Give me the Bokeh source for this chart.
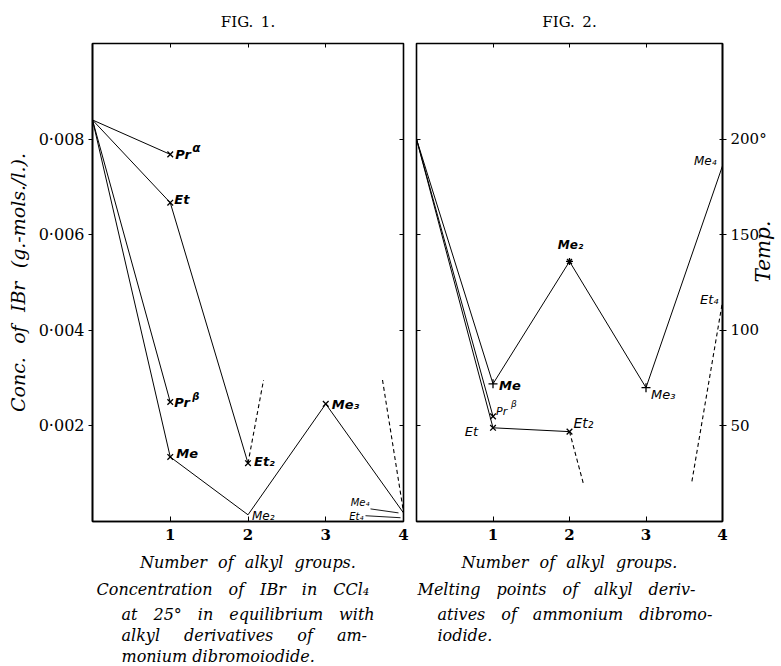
import math
from bokeh.plotting import figure
from bokeh.models import Range1d, LinearAxis, FixedTicker, Title, CustomJSTickFormatter
from bokeh.layouts import row
from bokeh.embed import file_html
from bokeh.resources import INLINE
from bokeh.core.properties import value

# ---------------- data: Fig. 1  (conc. of IBr in CCl4, g.-mols./l.) ----------------
alkyl_groups = [0, 1, 2, 3, 4]
conc_start = 0.0084                                   # 0 alkyl groups
conc_me = [0.00135, 0.00014, 0.00246, 0.00018]        # Me, Me2, Me3, Me4
conc_et = [0.00667, 0.00122]                          # Et, Et2
conc_et4 = 0.00010
conc_pr_alpha = 0.00768
conc_pr_beta = 0.00250
conc_dash_x = [[2.0, 2.2], [3.73, 4.0]]
conc_dash_y = [[0.00122, 0.00296], [0.00296, 0.00020]]

# ---------------- data: Fig. 2  (melting points, deg.) ----------------
mp_start = 200
mp_me = [72, 136, 70, 186]                            # Me, Me2, Me3, Me4
mp_et = [49, 47]                                      # Et, Et2
mp_et4 = 115
mp_pr_beta = 55
mp_dash_x = [[2.0, 2.18], [3.6, 4.0]]
mp_dash_y = [[47, 20], [21, 115]]

group_ticks = [1, 2, 3, 4]
conc_ticks = [0.002, 0.004, 0.006, 0.008]
temp_ticks = [50, 100, 150, 200]

EM, EN, TH = "\u2003", "\u2002", "\u2009"
caption1 = [EM.join(["Concentration", "of", "IBr", "in", "CCl₄"]),
            EM.join(["at", "25°", "in", "equilibrium", "with"]),
            (EM + EN).join(["alkyl", "derivatives", "of", "am-"]),
            "monium dibromoiodide."]
caption2 = [EM.join(["Melting", "points", "of", "alkyl", "deriv-"]),
            EM.join(["atives", "of", "ammonium", "dibromo-"]),
            "iodide."]
x_title = (EN + TH).join(["Number", "of", "alkyl", "groups."])
conc_title = (EN + TH).join(["Conc.", "of", "IBr", "(g.-mols./l.)."])
temp_title = "Temp."

# ---------------- styling ----------------
SERIF = "DejaVu Serif"
HAND = "DejaVu Sans"
FW1, FW2, FH = 311, 306, 478


def ticks_only(ticks, tin=4):
    ax = LinearAxis(ticker=FixedTicker(ticks=ticks))
    ax.major_label_text_font_size = "1px"
    ax.major_label_text_color = None
    ax.major_label_standoff = 0
    ax.major_tick_in = tin
    ax.major_tick_out = 0
    ax.minor_tick_line_color = None
    ax.axis_line_color = None
    ax.major_tick_line_color = "black"
    return ax


def base_fig(fw, yr, yloc, bl, br, title, toff):
    p = figure(frame_width=fw, frame_height=FH, x_range=Range1d(0, 4), y_range=yr,
               y_axis_location=yloc, output_backend="svg", toolbar_location=None,
               min_border_left=bl, min_border_right=br, min_border_top=43, min_border_bottom=144,
               background_fill_color="white", border_fill_color="white", title=title)
    p.title.align = "center"
    p.title.vertical_align = "top"
    p.title.offset = toff
    p.title.standoff = 21
    p.title.text_font = SERIF
    p.title.text_font_style = "normal"
    p.title.text_font_size = "15px"
    p.title.text_color = "black"
    p.xgrid.visible = False
    p.ygrid.visible = False
    p.outline_line_color = "black"
    p.outline_line_width = 1.6
    xa = p.xaxis[0]
    xa.ticker = FixedTicker(ticks=group_ticks)
    xa.major_tick_in = 5
    xa.major_tick_out = 0
    xa.minor_tick_line_color = None
    xa.axis_line_width = 1.6
    xa.major_label_text_font = SERIF
    xa.major_label_text_font_style = "bold"
    xa.major_label_text_font_size = "15px"
    xa.major_label_text_color = "black"
    xa.major_label_standoff = 7
    xa.axis_label = x_title
    xa.axis_label_text_font = SERIF
    xa.axis_label_text_font_style = "italic"
    xa.axis_label_text_font_size = "16px"
    xa.axis_label_text_color = "black"
    xa.axis_label_standoff = 10
    ya = p.yaxis[0]
    ya.minor_tick_line_color = None
    ya.axis_line_width = 1.6
    ya.major_label_text_font = SERIF
    ya.major_label_text_font_size = "15px"
    ya.major_label_text_color = "black"
    ya.major_label_standoff = 4
    return p


def captions(p, lines, first_off, rest_off):
    for i, t in enumerate(lines):
        p.add_layout(Title(text=t, align="left", offset=first_off if i == 0 else rest_off,
                           standoff=7 if i == 0 else 0, text_font=SERIF,
                           text_font_style="italic", text_font_size="16px",
                           text_color="black"), "below")


def hand(p, x, y, t, dx=0, dy=0, align="left", size="13px", style="bold italic"):
    p.text(x=[x], y=[y], text=[t], x_offset=dx, y_offset=dy, text_align=align,
           text_baseline="middle", text_font=value(HAND), text_font_style=style,
           text_font_size=size, text_color="black")


# =============================== Fig. 1 ===============================
p1 = base_fig(FW1, Range1d(0, 0.010), "left", 92, 6, "FIG." + EN + "1.", 0)
ya = p1.yaxis[0]
ya.ticker = FixedTicker(ticks=conc_ticks)
ya.formatter = CustomJSTickFormatter(code="return tick.toFixed(3).replace('.', '\u00b7');")
ya.major_label_text_font_size = "16px"
ya.major_tick_in = 0
ya.major_tick_out = 4
ya.axis_label = conc_title
ya.axis_label_text_font = SERIF
ya.axis_label_text_font_style = "italic"
ya.axis_label_text_font_size = "19px"
ya.axis_label_text_color = "black"
ya.axis_label_standoff = 7
p1.add_layout(ticks_only(conc_ticks), "right")
p1.add_layout(ticks_only([1, 2, 3]), "above")

lw = 1.0
p1.line(alkyl_groups, [conc_start] + conc_me, line_color="black", line_width=lw)
p1.line(alkyl_groups[:3], [conc_start] + conc_et, line_color="black", line_width=lw)
p1.line([0, 1], [conc_start, conc_pr_alpha], line_color="black", line_width=lw)
p1.line([0, 1], [conc_start, conc_pr_beta], line_color="black", line_width=lw)
p1.multi_line(conc_dash_x, conc_dash_y, line_color="black", line_width=1.1, line_dash="4 3")
p1.line([4, 4], [conc_me[3], conc_et4], line_color="black", line_width=lw)
p1.scatter([1, 1, 1, 1, 2, 3],
           [conc_pr_alpha, conc_et[0], conc_pr_beta, conc_me[0], conc_et[1], conc_me[2]],
           marker="x", size=8, line_color="black", line_width=1.3)

hand(p1, 1, conc_pr_alpha, "Pr", dx=5, dy=0)
hand(p1, 1, conc_pr_alpha, "α", dx=22, dy=-6, size="12px")
hand(p1, 1, conc_et[0], "Et", dx=4, dy=-3)
hand(p1, 1, conc_pr_beta, "Pr", dx=4, dy=0)
hand(p1, 1, conc_pr_beta, "β", dx=22, dy=-6, size="10px")
hand(p1, 1, conc_me[0], "Me", dx=6, dy=-3)
hand(p1, 2, conc_et[1], "Et₂", dx=6, dy=-2)
hand(p1, 2, conc_me[1], "Me₂", dx=4, dy=1, size="12px", style="italic")
hand(p1, 3, conc_me[2], "Me₃", dx=6, dy=1)
hand(p1, 4, conc_me[3], "Me₄", dx=-34, dy=-10, align="right", size="10px", style="italic")
hand(p1, 4, conc_et4, "Et₄", dx=-40, dy=0, align="right", size="10px", style="italic")
# leader lines from the Me4 / Et4 labels to their points (offsets in px -> data units)
ux, uy = 4 / FW1, 0.010 / FH
p1.segment(x0=[4 - 33 * ux, 4 - 38 * ux], y0=[conc_me[3] + 4 * uy, conc_et4 + 1 * uy],
           x1=[4 - 5 * ux, 4 - 3 * ux], y1=[conc_me[3], conc_et4 - 1 * uy],
           line_color="black", line_width=0.9)
captions(p1, caption1, 4, 29)

# =============================== Fig. 2 ===============================
p2 = base_fig(FW2, Range1d(0, 250), "right", 7, 58, "FIG." + EN + "2.", 12)
ya2 = p2.yaxis[0]
ya2.ticker = FixedTicker(ticks=temp_ticks)
ya2.major_label_overrides = {200: "200°"}
ya2.major_tick_in = 3
ya2.major_tick_out = 4
ya2.axis_label = temp_title
ya2.axis_label_orientation = math.pi / 2
ya2.axis_label_text_font = SERIF
ya2.axis_label_text_font_style = "italic"
ya2.axis_label_text_font_size = "20px"
ya2.axis_label_text_color = "black"
ya2.axis_label_standoff = -7
p2.add_layout(ticks_only(temp_ticks), "left")
p2.add_layout(ticks_only([1, 2, 3]), "above")

p2.line(alkyl_groups, [mp_start] + mp_me, line_color="black", line_width=lw)
p2.line(alkyl_groups[:3], [mp_start] + mp_et, line_color="black", line_width=lw)
p2.line([0, 1], [mp_start, mp_pr_beta], line_color="black", line_width=lw)
p2.multi_line(mp_dash_x, mp_dash_y, line_color="black", line_width=1.1, line_dash="4 3")
p2.scatter([1, 1, 2], [mp_pr_beta, mp_et[0], mp_et[1]], marker="x", size=8,
           line_color="black", line_width=1.3)
p2.scatter([1, 3], [mp_me[0], mp_me[2]], marker="cross", size=9, line_color="black", line_width=1.3)
p2.scatter([2], [mp_me[1]], marker="asterisk", size=7, line_color="black", line_width=1.3)

hand(p2, 1, mp_me[0], "Me", dx=6, dy=2)
hand(p2, 1, mp_pr_beta, "Pr", dx=3, dy=-5, size="11px", style="italic")
hand(p2, 1, mp_pr_beta, "β", dx=18, dy=-12, size="9px", style="italic")
hand(p2, 1, mp_et[0], "Et", dx=-15, dy=4, align="right", style="italic")
hand(p2, 2, mp_et[1], "Et₂", dx=4, dy=-9, size="14px", style="italic")
hand(p2, 2, mp_me[1], "Me₂", dx=1, dy=-16, align="center", size="12px")
hand(p2, 3, mp_me[2], "Me₃", dx=5, dy=7, style="italic")
hand(p2, 4, mp_me[3], "Me₄", dx=-6, dy=-5, align="right", size="12px", style="italic")
hand(p2, 4, mp_et4, "Et₄", dx=-4, dy=-2, align="right", size="13px", style="italic")
captions(p2, caption2, 1, 21)

layout = row(p1, p2)
open("out.html", "w").write(file_html(layout, INLINE))
